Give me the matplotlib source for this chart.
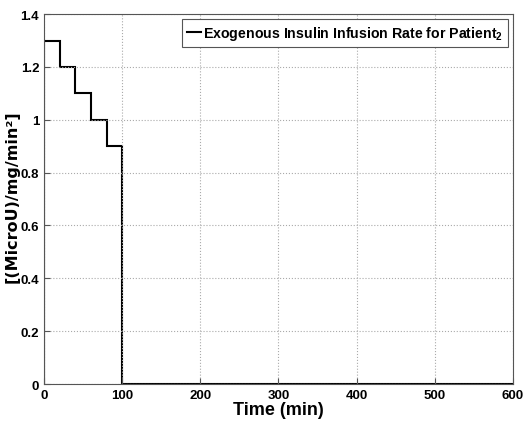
import matplotlib
matplotlib.use('Agg')
import matplotlib.pyplot as plt

# 输注时间段 (min) 和 速率
t_edges = [0, 20, 40, 60, 80, 100, 600]
rates = [1.3, 1.2, 1.1, 1.0, 0.9, 0.0]
x_ticks = [0, 100, 200, 300, 400, 500, 600]
y_ticks = [0, 0.2, 0.4, 0.6, 0.8, 1, 1.2, 1.4]
y_tick_labels = ['0', '0.2', '0.4', '0.6', '0.8', '1', '1.2', '1.4']

plt.rcParams['font.family'] = ['Liberation Sans', 'DejaVu Sans']
plt.rcParams['font.weight'] = 'bold'
plt.rcParams['mathtext.fontset'] = 'custom'
plt.rcParams['mathtext.bf'] = 'Liberation Sans:bold'
plt.rcParams['mathtext.rm'] = 'Liberation Sans:bold'

fig = plt.figure(figsize=(5.27, 4.31), dpi=100)
ax = fig.add_axes([0.0835, 0.1067, 0.8899, 0.8583])

ax.stairs(rates, t_edges, color='black', linewidth=1.5,
          label=r'Exogenous Insulin Infusion Rate for Patient$_\mathrm{2}$')

ax.set_xlim(0, 600)
ax.set_ylim(0, 1.4)
ax.set_xticks(x_ticks)
ax.set_yticks(y_ticks)
ax.set_yticklabels(y_tick_labels)
ax.tick_params(direction='in', labelsize=9.5, length=4, color='#555555')
ax.grid(True, linestyle=':', color='#aaaaaa', linewidth=0.8)
for s in ax.spines.values():
    s.set_color('#555555')

ax.set_xlabel('Time (min)', fontsize=13, fontweight='bold', labelpad=0)
ax.set_ylabel('[(MicroU)/mg/min²]', fontsize=11.5, fontweight='bold',
              family='DejaVu Sans')
ax.yaxis.set_label_coords(-0.051, 0.51)

leg = ax.legend(loc='upper right', fontsize=10.2, handlelength=1.0,
                handletextpad=0.15, borderaxespad=0.35, fancybox=False,
                framealpha=1, borderpad=0.35)
leg.get_frame().set_edgecolor('#555555')
leg.get_frame().set_linewidth(0.8)

fig.savefig('out.png', dpi=100)
